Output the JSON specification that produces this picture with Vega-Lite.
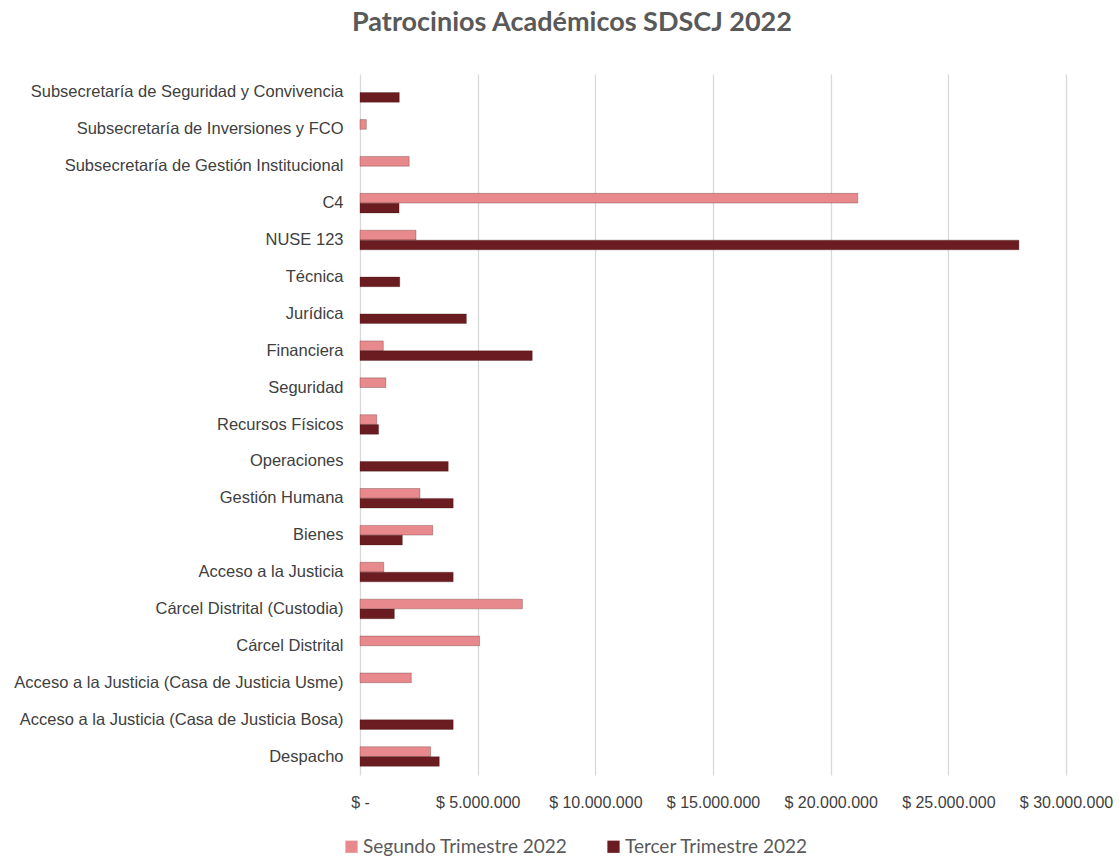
{
  "$schema": "https://vega.github.io/schema/vega-lite/v6.json",
  "autosize": "none",
  "width": 706,
  "height": 701,
  "padding": {"left": 360, "top": 74, "right": 53, "bottom": 83},
  "background": "white",
  "config": {
    "view": {"stroke": null},
    "locale": {"number": {"decimal": ",", "thousands": ".", "grouping": [3], "currency": ["$ ", ""]}}
  },
  "title": {
    "text": "Patrocinios Académicos SDSCJ 2022",
    "font": "Lato",
    "fontSize": 27,
    "fontWeight": "bold",
    "color": "#595959",
    "anchor": "middle",
    "dx": -141,
    "offset": 37
  },
  "data": {
    "values": [
      {"area": "Subsecretaría de Seguridad y Convivencia", "serie": "Tercer Trimestre 2022", "valor": 1670000},
      {"area": "Subsecretaría de Inversiones y FCO", "serie": "Segundo Trimestre 2022", "valor": 270000},
      {"area": "Subsecretaría de Gestión Institucional", "serie": "Segundo Trimestre 2022", "valor": 2090000},
      {"area": "C4", "serie": "Segundo Trimestre 2022", "valor": 21150000},
      {"area": "C4", "serie": "Tercer Trimestre 2022", "valor": 1660000},
      {"area": "NUSE 123", "serie": "Segundo Trimestre 2022", "valor": 2380000},
      {"area": "NUSE 123", "serie": "Tercer Trimestre 2022", "valor": 28000000},
      {"area": "Técnica", "serie": "Tercer Trimestre 2022", "valor": 1690000},
      {"area": "Jurídica", "serie": "Tercer Trimestre 2022", "valor": 4520000},
      {"area": "Financiera", "serie": "Segundo Trimestre 2022", "valor": 990000},
      {"area": "Financiera", "serie": "Tercer Trimestre 2022", "valor": 7320000},
      {"area": "Seguridad", "serie": "Segundo Trimestre 2022", "valor": 1100000},
      {"area": "Recursos Físicos", "serie": "Segundo Trimestre 2022", "valor": 710000},
      {"area": "Recursos Físicos", "serie": "Tercer Trimestre 2022", "valor": 790000},
      {"area": "Operaciones", "serie": "Tercer Trimestre 2022", "valor": 3750000},
      {"area": "Gestión Humana", "serie": "Segundo Trimestre 2022", "valor": 2550000},
      {"area": "Gestión Humana", "serie": "Tercer Trimestre 2022", "valor": 3960000},
      {"area": "Bienes", "serie": "Segundo Trimestre 2022", "valor": 3090000},
      {"area": "Bienes", "serie": "Tercer Trimestre 2022", "valor": 1800000},
      {"area": "Acceso a la Justicia", "serie": "Segundo Trimestre 2022", "valor": 1010000},
      {"area": "Acceso a la Justicia", "serie": "Tercer Trimestre 2022", "valor": 3960000},
      {"area": "Cárcel Distrital (Custodia)", "serie": "Segundo Trimestre 2022", "valor": 6900000},
      {"area": "Cárcel Distrital (Custodia)", "serie": "Tercer Trimestre 2022", "valor": 1460000},
      {"area": "Cárcel Distrital", "serie": "Segundo Trimestre 2022", "valor": 5080000},
      {"area": "Acceso a la Justicia (Casa de Justicia Usme)", "serie": "Segundo Trimestre 2022", "valor": 2180000},
      {"area": "Acceso a la Justicia (Casa de Justicia Bosa)", "serie": "Tercer Trimestre 2022", "valor": 3960000},
      {"area": "Despacho", "serie": "Segundo Trimestre 2022", "valor": 3000000},
      {"area": "Despacho", "serie": "Tercer Trimestre 2022", "valor": 3370000}
    ]
  },
  "mark": {"type": "bar", "stroke": "#3a0f10", "strokeOpacity": 0.35, "strokeWidth": 0.8},
  "encoding": {
    "y": {
      "field": "area",
      "type": "nominal",
      "sort": [
        "Subsecretaría de Seguridad y Convivencia",
        "Subsecretaría de Inversiones y FCO",
        "Subsecretaría de Gestión Institucional",
        "C4",
        "NUSE 123",
        "Técnica",
        "Jurídica",
        "Financiera",
        "Seguridad",
        "Recursos Físicos",
        "Operaciones",
        "Gestión Humana",
        "Bienes",
        "Acceso a la Justicia",
        "Cárcel Distrital (Custodia)",
        "Cárcel Distrital",
        "Acceso a la Justicia (Casa de Justicia Usme)",
        "Acceso a la Justicia (Casa de Justicia Bosa)",
        "Despacho"
      ],
      "scale": {"paddingInner": 0.47, "paddingOuter": 0.235},
      "axis": {
        "title": null,
        "ticks": false,
        "domain": false,
        "grid": false,
        "labelPadding": 17,
        "labelLimit": 400,
        "labelFont": "Liberation Sans",
        "labelFontSize": 16.5,
        "labelColor": "#404040"
      }
    },
    "yOffset": {
      "field": "serie",
      "type": "nominal",
      "sort": ["Segundo Trimestre 2022", "Tercer Trimestre 2022"],
      "scale": {"paddingInner": 0.02, "paddingOuter": 0}
    },
    "x": {
      "field": "valor",
      "type": "quantitative",
      "scale": {"domain": [0, 30000000], "nice": false},
      "axis": {
        "title": null,
        "values": [0, 5000000, 10000000, 15000000, 20000000, 25000000, 30000000],
        "format": ",d",
        "labelExpr": "datum.value == 0 ? '$ -' : '$ ' + datum.label",
        "labelOverlap": false,
        "labelBound": false,
        "labelFlush": false,
        "domain": false,
        "ticks": false,
        "grid": true,
        "gridColor": "#d9d9d9",
        "gridWidth": 1.3,
        "labelPadding": 19,
        "labelFont": "Liberation Sans",
        "labelFontSize": 16,
        "labelColor": "#404040"
      }
    },
    "color": {
      "field": "serie",
      "type": "nominal",
      "scale": {"domain": ["Segundo Trimestre 2022", "Tercer Trimestre 2022"], "range": ["#e88a8d", "#6b1c20"]},
      "legend": {
        "title": null,
        "orient": "none",
        "direction": "horizontal",
        "legendX": -18,
        "legendY": 763,
        "symbolType": "square",
        "symbolSize": 150,
        "symbolStrokeWidth": 0,
        "labelFont": "Lato",
        "labelFontSize": 19,
        "labelLimit": 400,
        "labelColor": "#595959",
        "labelOffset": 2,
        "columnPadding": 36
      }
    }
  }
}
